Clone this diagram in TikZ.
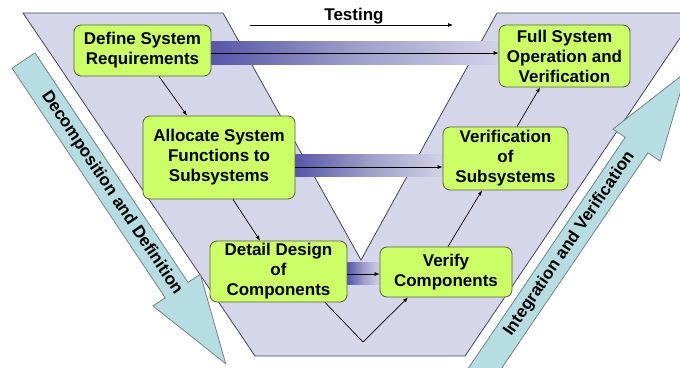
\documentclass[tikz,border=0pt]{standalone}
\usepackage{fontspec}
\setmainfont{Liberation Sans}
\usetikzlibrary{arrows.meta,calc}
\definecolor{lav}{RGB}{214,214,234}
\definecolor{lavline}{RGB}{70,70,80}
\definecolor{boxfill}{RGB}{204,255,102}
\definecolor{boxline}{RGB}{85,95,60}
\definecolor{teal}{RGB}{182,222,226}
\definecolor{tealline}{RGB}{120,130,132}
\pgfdeclarehorizontalshading{testbar}{100bp}{rgb(0bp)=(0.16,0.16,0.58); rgb(12bp)=(0.19,0.19,0.6); rgb(50bp)=(0.62,0.62,0.79); rgb(80bp)=(0.86,0.86,0.93); rgb(100bp)=(0.92,0.92,0.96)}
\pgfdeclarelayer{bglayer}
\pgfdeclarelayer{midlayer}
\pgfsetlayers{bglayer,midlayer,main}
\begin{document}
\begin{tikzpicture}[x=1pt,y=1pt,
  box/.style={draw=boxline, fill=boxfill, rounded corners=7pt, line width=0.8pt,
    align=center, font=\fontsize{17}{20}\selectfont\bfseries, inner sep=0pt},
  conn/.style={line width=0.7pt, -{Latex[length=5pt,width=4pt]}},
  bar/.style={shading=testbar},
  bigarrow/.style={fill=teal, draw=tealline, line width=0.8pt},
  lbl/.style={font=\fontsize{17}{20}\selectfont\bfseries}]
\useasboundingbox (0,0) rectangle (680,367);
\clip (0,0) rectangle (680,367);

\begin{pgfonlayer}{bglayer}
% V shape
\draw[fill=lav, draw=lavline, line width=0.8pt]
  (23,354) -- (223,354) -- (361,107) -- (497,354) -- (697,354) -- (465,11) -- (255,11) -- cycle;
\end{pgfonlayer}

% Decomposition arrow
\begin{scope}[shift={(23.5,306.5)}, rotate=-56.3]
  \draw[bigarrow] (0,13.75) -- (276,13.75) -- (276,28.5) -- (364.5,0) -- (276,-28.5) -- (276,-13.75) -- (0,-13.75) -- cycle;
  \node[lbl, rotate=-56.3] (decomp) at (159,0) {Decomposition and Definition};
\end{scope}
% Integration arrow
\begin{scope}[shift={(488.5,4)}, rotate=55.8]
  \draw[bigarrow] (-20,13.75) -- (263.5,13.75) -- (263.5,28.5) -- (352,0) -- (263.5,-28.5) -- (263.5,-13.75) -- (-20,-13.75) -- cycle;
  \node[lbl, rotate=55.8] (integ) at (144,0) {Integration and Verification};
\end{scope}

% Boxes
\node[box, minimum width=137pt, minimum height=51pt] (def) at (142.5,316.5) {Define System\\Requirements};
\node[box, minimum width=152pt, minimum height=83pt] (alloc) at (219,209.5) {Allocate System\\Functions to\\Subsystems};
\node[box, minimum width=137pt, minimum height=61pt] (detail) at (278.5,95.5) {Detail Design\\of\\Components};
\node[box, minimum width=132pt, minimum height=50pt] (verify) at (446,95) {Verify\\Components};
\node[box, minimum width=125pt, minimum height=63pt] (vsub) at (505.5,208.5) {Verification\\of\\Subsystems};
\node[box, minimum width=131pt, minimum height=62pt] (full) at (564.5,311) {Full System\\Operation and\\Verification};

% Testing bars (behind boxes)
\begin{pgfonlayer}{midlayer}
\path[bar] (def.east |- 0,302) rectangle (full.west |- 0,325);
\path[bar] (alloc.east |- 0,190) rectangle (vsub.west |- 0,212);
\path[bar] (detail.east |- 0,82) rectangle (verify.west |- 0,104);
\end{pgfonlayer}

% Testing arrows
\draw[conn] ([yshift=-2.5pt]def.east) -- ([yshift=-2.5pt]def.east -| full.west);
\draw[conn] ([yshift=-9.5pt]alloc.east) -- ([yshift=-9.5pt]alloc.east -| vsub.west);
\draw[conn] ([yshift=-2.5pt]detail.east) -- ([yshift=-2.5pt]detail.east -| verify.west);

% Flow arrows
\draw[conn] ([xshift=16.5pt]def.south) -- ([xshift=-32pt]alloc.north);
\draw[conn] ([xshift=14pt]alloc.south) -- ([xshift=-18.5pt]detail.north);
\coordinate (vbot) at (363,25);
\draw[conn] ([xshift=46.5pt]detail.south) -- (vbot) -- ([xshift=-38pt]verify.south);
\draw[conn] ([xshift=2pt]verify.north) -- ([xshift=-23.5pt]vsub.south);
\draw[conn] ([xshift=11.5pt]vsub.north) -- ([xshift=-24.5pt]full.south);

% Testing label
\coordinate (tstart) at (250,342);
\coordinate (tend) at (453,342);
\draw[conn] (tstart) -- (tend);
\node[lbl, anchor=base] (testing) at (354,346) {Testing};
\end{tikzpicture}
\end{document}
